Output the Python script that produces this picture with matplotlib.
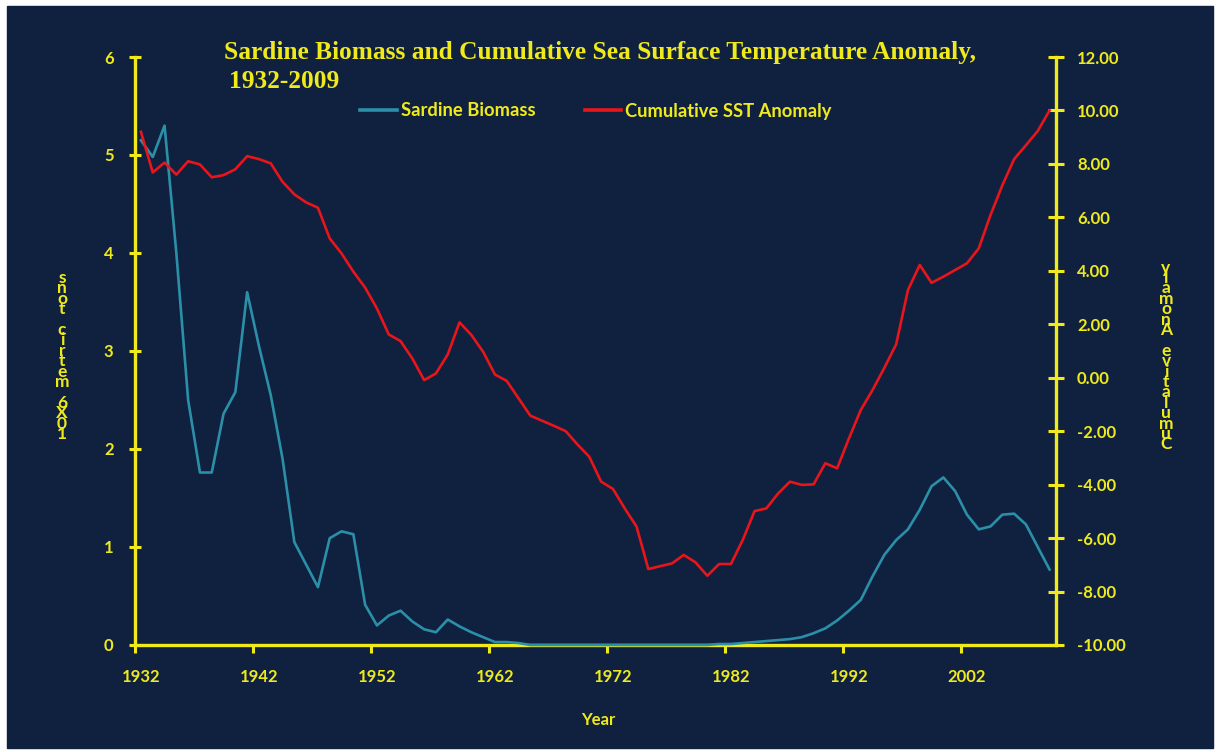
import matplotlib.pyplot as plt
from matplotlib.patches import Rectangle
from matplotlib.lines import Line2D
from matplotlib.ticker import FixedLocator, StrMethodFormatter

plt.rcParams['axes.unicode_minus'] = False
plt.rcParams['font.family'] = ['Lato', 'DejaVu Sans']

# Data
years = list(range(1932, 2010))

biomass = [5.15, 4.98, 5.30, 4.00, 2.50, 1.76, 1.76, 2.36, 2.58, 3.60,
           3.05, 2.55, 1.90, 1.05, 0.82, 0.59, 1.09, 1.16, 1.13, 0.41,
           0.20, 0.30, 0.35, 0.24, 0.16, 0.13, 0.26, 0.19, 0.13, 0.08,
           0.03, 0.03, 0.02, 0.00, 0.00, 0.00, 0.00, 0.00, 0.00, 0.00,
           0.00, 0.00, 0.00, 0.00, 0.00, 0.00, 0.00, 0.00, 0.00, 0.01,
           0.01, 0.02, 0.03, 0.04, 0.05, 0.06, 0.08, 0.12, 0.17, 0.25,
           0.35, 0.46, 0.70, 0.92, 1.07, 1.18, 1.38, 1.62, 1.71, 1.57,
           1.33, 1.18, 1.21, 1.33, 1.34, 1.23, 1.00, 0.77]

sst_cum = [9.20, 7.68, 8.05, 7.60, 8.10, 7.98, 7.50, 7.58, 7.80, 8.29,
           8.18, 8.02, 7.33, 6.86, 6.56, 6.36, 5.21, 4.65, 3.97, 3.37,
           2.59, 1.62, 1.37, 0.72, -0.09, 0.16, 0.87, 2.07, 1.60, 0.97,
           0.12, -0.12, -0.77, -1.42, -1.61, -1.80, -2.00, -2.50, -2.96, -3.89,
           -4.16, -4.89, -5.57, -7.16, -7.05, -6.95, -6.63, -6.91, -7.41, -6.97,
           -6.97, -6.07, -4.99, -4.89, -4.33, -3.89, -4.01, -3.99, -3.20, -3.39,
           -2.27, -1.21, -0.46, 0.37, 1.25, 3.28, 4.22, 3.55, 3.78, 4.03,
           4.28, 4.84, 6.09, 7.20, 8.18, 8.70, 9.23, 10.00]

tick_years = [1932, 1942, 1952, 1962, 1972, 1982, 1992, 2002]
left_ticks = [0, 1, 2, 3, 4, 5, 6]
right_ticks = [-10, -8, -6, -4, -2, 0, 2, 4, 6, 8, 10, 12]

navy = '#0f213f'
yellow = '#f0ea1c'
teal = '#2b8fa8'
red = '#e8151b'

fig = plt.figure(figsize=(12.21, 7.52), dpi=100)
fig.patch.set_facecolor('white')
fig.add_artist(Rectangle((7 / 1221, 4 / 752), 1206 / 1221, 742 / 752,
                         transform=fig.transFigure, color=navy, zorder=-10))

ax = fig.add_axes([0.1106, 0.1423, 0.7543, 0.7819])
ax.set_facecolor('none')
ax2 = ax.twinx()
ax2.set_facecolor('none')

ax.plot(years, biomass, color=teal, lw=1.9, zorder=3, clip_on=False)
ax2.plot(years, sst_cum, color=red, lw=1.9, zorder=3)

ax.set_xlim(1931.5, 2009.55)
ax.set_ylim(0, 6)
ax2.set_ylim(-10, 12)

# year labels sit at category centres, tick marks at the boundaries
ax.xaxis.set_major_locator(FixedLocator(tick_years))
ax.set_xticklabels([str(y) for y in tick_years])
ax.xaxis.set_minor_locator(FixedLocator([y - 0.5 for y in tick_years]))
ax.tick_params(axis='x', which='major', length=0, pad=17)
ax.tick_params(axis='x', which='minor', length=6, width=2.2, color=yellow, direction='out')

ax.set_yticks(left_ticks)
ax.tick_params(axis='y', length=9, width=2.2, color=yellow, direction='inout', pad=11)
ax2.set_yticks(right_ticks)
ax2.yaxis.set_major_formatter(StrMethodFormatter('{x:.2f}'))
ax2.tick_params(axis='y', length=12, width=2.2, color=yellow, direction='inout', pad=9)

for a in (ax, ax2):
    for lab in a.get_xticklabels() + a.get_yticklabels():
        lab.set_color(yellow)
        lab.set_fontsize(12)
        lab.set_fontweight('bold')
    for s in a.spines.values():
        s.set_color(yellow)
        s.set_linewidth(2.4)
    a.spines['top'].set_visible(False)
ax.spines['right'].set_visible(False)
ax2.spines['left'].set_visible(False)
ax2.spines['bottom'].set_visible(False)

# title
title_font = dict(family=['Liberation Serif', 'DejaVu Serif'], weight='bold', color=yellow, fontsize=18.3)
fig.text(224 / 1221, 1 - 53 / 752,
         'Sardine Biomass and Cumulative Sea Surface Temperature Anomaly,',
         ha='left', va='center', **title_font)
fig.text(229 / 1221, 1 - 82 / 752, '1932-2009', ha='left', va='center', **title_font)

# legend
handles = [Line2D([], [], color=teal, lw=2.6), Line2D([], [], color=red, lw=2.6)]
leg = fig.legend(handles, ['Sardine Biomass', 'Cumulative SST Anomaly'],
                 loc='center', bbox_to_anchor=(596 / 1221, 1 - 111 / 752), ncol=2,
                 frameon=False, handlelength=2.0, handletextpad=0.2, columnspacing=2.7,
                 prop=dict(weight='bold', size=13.2))
for t in leg.get_texts():
    t.set_color(yellow)

# stacked axis titles
lab_font = dict(color=yellow, fontsize=12.5, weight='bold', ha='center', va='center',
                linespacing=0.57)
fig.text(62 / 1221, 1 - 356 / 752, '\n'.join(reversed('10X6 metric tons')), **lab_font)
fig.text(1166 / 1221, 1 - 356 / 752, '\n'.join(reversed('Cumulative Anomaly')), **lab_font)

fig.text(598 / 1221, 1 - 720 / 752, 'Year', color=yellow, fontsize=12,
         weight='bold', ha='center', va='center')

fig.savefig('out.png', dpi=100, facecolor=fig.get_facecolor())
